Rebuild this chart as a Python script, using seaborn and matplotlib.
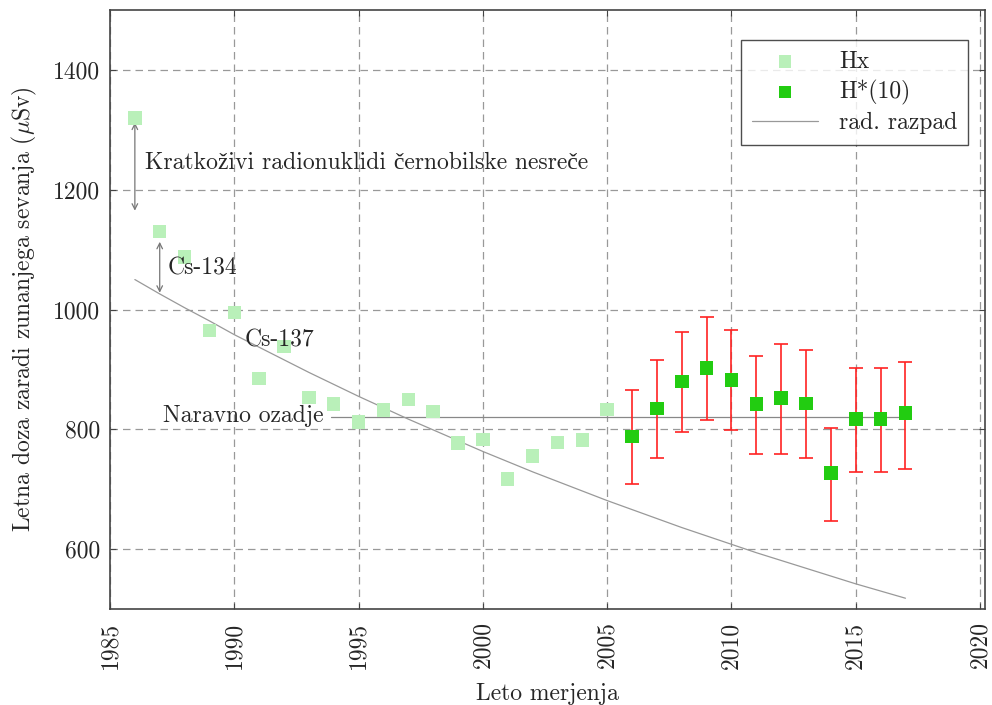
import matplotlib
matplotlib.use("Agg")
import matplotlib.pyplot as plt
import seaborn as sns
import pandas as pd
import numpy as np

# ---- data ----
hx_years = list(range(1986, 2006))
hx_values = [1320, 1130, 1088, 965, 995, 885, 938, 853, 842, 812,
             832, 850, 830, 777, 783, 717, 755, 778, 782, 833]

h10_years = list(range(2006, 2018))
h10_values = [788, 835, 880, 902, 882, 842, 852, 843, 727, 817, 817, 827]
h10_lower = [708, 752, 795, 815, 798, 758, 758, 752, 647, 728, 728, 733]
h10_upper = [865, 915, 963, 987, 965, 922, 943, 933, 803, 903, 903, 913]

decay_years = list(range(1986, 2018))
decay_values = [1050, 1026, 1003, 981, 958, 937, 916, 895, 875, 855, 836,
                817, 799, 781, 763, 746, 729, 713, 697, 681, 666, 651, 636,
                622, 608, 594, 581, 568, 555, 542, 530, 518]

bg_years = [1993.9, 2017]
bg_values = [820, 820]

xticks = [1985, 1990, 1995, 2000, 2005, 2010, 2015, 2020]
yticks = [600, 800, 1000, 1200, 1400]

# ---- style ----
sns.set_style("white")
plt.rcParams['font.family'] = ['cmr10', 'Liberation Serif']
plt.rcParams['mathtext.fontset'] = 'cm'
plt.rcParams['axes.formatter.use_mathtext'] = True
plt.rcParams['axes.unicode_minus'] = False
FS = 17

fig = plt.figure(figsize=(9.92, 7.05), dpi=100)
ax = fig.add_axes([110/992, 1-609/705, (985-110)/992, (609-10)/705])

hx_df = pd.DataFrame({"year": hx_years, "dose": hx_values})
h10_df = pd.DataFrame({"year": h10_years, "dose": h10_values})
decay_df = pd.DataFrame({"year": decay_years, "dose": decay_values})

ax.grid(True, color="#999999", linestyle=(0, (6, 4)), linewidth=0.9)
ax.set_axisbelow(True)

# background line
ax.plot(bg_years, bg_values, color="#888888", linewidth=0.9, zorder=2)

sns.lineplot(data=decay_df, x="year", y="dose", ax=ax, color="#999999",
             linewidth=0.9, label="rad. razpad", zorder=2)

err_lo = np.array(h10_values) - np.array(h10_lower)
err_hi = np.array(h10_upper) - np.array(h10_values)
ax.errorbar(h10_years, h10_values, yerr=[err_lo, err_hi], fmt="none",
            ecolor="#ff2222", elinewidth=1.2, capsize=5, capthick=1.2, zorder=3)

sns.scatterplot(data=hx_df, x="year", y="dose", ax=ax, marker="s", s=95,
                color="#b9f0b9", edgecolor="none", label="Hx", zorder=4)
sns.scatterplot(data=h10_df, x="year", y="dose", ax=ax, marker="s", s=95,
                color="#22cc11", edgecolor="none", label="H*(10)", zorder=4)

# annotations
arrow_kw = dict(arrowstyle="<->", color="#777777", lw=0.9,
                shrinkA=0, shrinkB=0, mutation_scale=10)
ax.annotate("", xy=(1986, 1312), xytext=(1986, 1165), arrowprops=arrow_kw)
ax.annotate("", xy=(1987, 1113), xytext=(1987, 1028), arrowprops=arrow_kw)
ax.text(1986.4, 1245, "Kratkoživi radionuklidi černobilske nesreče",
        fontsize=FS, va="center", ha="left", zorder=5)
ax.text(1987.3, 1068, "Cs-134", fontsize=FS, va="center", ha="left", zorder=5)
ax.text(1990.4, 948, "Cs-137", fontsize=FS, va="center", ha="left", zorder=5)
ax.text(1990.35, 823, "Naravno ozadje", fontsize=FS, va="center", ha="center",
        zorder=5)

ax.set_xlim(1985, 2020.2)
ax.set_ylim(500, 1500)
ax.set_xticks(xticks)
ax.set_yticks(yticks)
ax.set_xticklabels([str(t) for t in xticks], rotation=90, fontsize=FS)
ax.set_yticklabels([str(t) for t in yticks], fontsize=FS)
ax.tick_params(axis="x", direction="in", length=4, color="#444444", top=True,
               bottom=True, pad=9)
ax.tick_params(axis="y", direction="in", length=4, color="#444444", left=True,
               right=True, pad=7)
for sp in ax.spines.values():
    sp.set_color("#444444")
    sp.set_linewidth(1.2)

ax.set_xlabel("Leto merjenja", fontsize=FS, labelpad=10)
ax.set_ylabel(r"Letna doza zaradi zunanjega sevanja ($\mu$Sv)", fontsize=FS, labelpad=10)

handles, labels = ax.get_legend_handles_labels()
order = [labels.index("Hx"), labels.index("H*(10)"), labels.index("rad. razpad")]
leg = ax.legend([handles[i] for i in order], [labels[i] for i in order],
                loc="upper right", bbox_to_anchor=((968-110)/875, (609-40)/599),
                borderaxespad=0, fontsize=FS,
                frameon=True, fancybox=False, edgecolor="#222222",
                handlelength=2.8, borderpad=0.45, labelspacing=0.3,
                handletextpad=0.9, markerscale=0.9)
leg.get_frame().set_linewidth(1.0)
for t in leg.get_texts():
    t.set_ha("center")

fig.savefig("out.png", dpi=100)
